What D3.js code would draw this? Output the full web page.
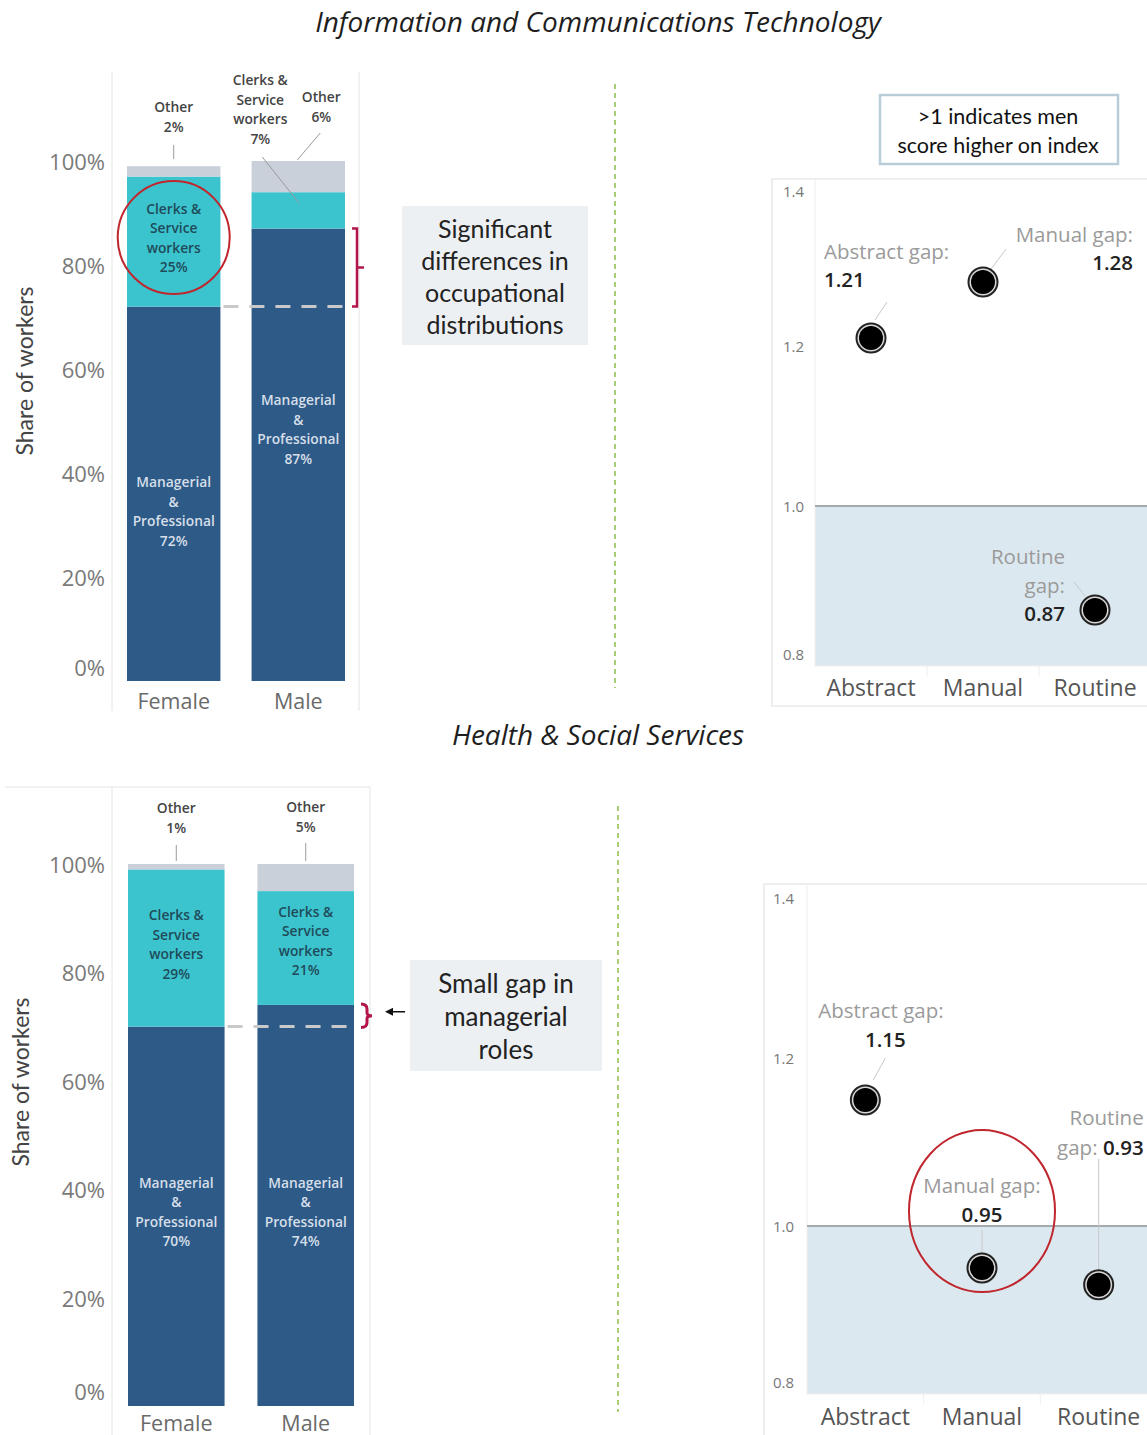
<!DOCTYPE html>
<html>
<head>
<meta charset="utf-8">
<script src="https://cdn.jsdelivr.net/npm/d3@7"></script>
<style>
  body { margin: 0; background: #fff; }
  svg text { font-family: 'Open Sans', 'Noto Sans', sans-serif; }
</style>
</head>
<body>
<svg id="chart" width="1147" height="1435"></svg>
<script>
// ---- data ----
const genders = ["Female", "Male"];
const occupations = ["Managerial & Professional", "Clerks & Service workers", "Other"];
const ictFemale = [72, 25, 2];
const ictMale = [87, 7, 6];
const healthFemale = [70, 29, 1];
const healthMale = [74, 21, 5];
const shareTicks = [0, 20, 40, 60, 80, 100];

const gapCategories = ["Abstract", "Manual", "Routine"];
const ictGaps = [1.21, 1.28, 0.87];
const healthGaps = [1.15, 0.95, 0.93];
const gapTicks = [0.8, 1.0, 1.2, 1.4];

// ---- styling ----
const COL = {
  mgr: "#2d5a87", clerk: "#3cc4ce", other: "#c9d0d9",
  red: "#c0262d", brace: "#b3154a", frame: "#e4e4e4",
  shade: "#dce8ef", green: "#8fbf4a"
};
const CAL = "Lato, 'Open Sans', sans-serif";

const svg = d3.select("#chart");
svg.append("rect").attr("width", 1147).attr("height", 1435).attr("fill", "#fff");

function stack(vals) {
  let c = 0;
  return vals.map((v, i) => { const d = { occ: occupations[i], v, i, y0: c, y1: c + v }; c += v; return d; });
}

function lines(g, arr, x, yCenter, step, anchor, style) {
  const y0 = yCenter - (arr.length - 1) * step / 2;
  const t = g.append("text").attr("text-anchor", anchor || "middle");
  arr.forEach((s, k) => {
    t.append("tspan").attr("x", x).attr("y", y0 + k * step).attr("dominant-baseline", "central").text(s);
  });
  Object.entries(style || {}).forEach(([k, v]) => t.style(k, v));
  return t;
}

function leader(g, x1, y1, x2, y2, color) {
  g.append("line").attr("x1", x1).attr("y1", y1).attr("x2", x2).attr("y2", y2)
    .attr("stroke", color || "#9a9a9a").attr("stroke-width", 1);
}

// ---- stacked share panel ----
function sharePanel(o) {
  const g = svg.append("g");
  const y = d3.scaleLinear().domain([0, 100]).range([o.bottom, o.top]);
  const x = d3.scaleBand().domain(genders).range([o.left, o.right]).paddingInner(o.pad);

  // pane frame
  o.frame.forEach(f => g.append("line").attr("x1", f[0]).attr("y1", f[1]).attr("x2", f[2]).attr("y2", f[3])
    .attr("stroke", COL.frame).attr("stroke-width", 1));

  // axis labels
  g.selectAll(null).data(shareTicks).join("text")
    .attr("x", o.tickX).attr("y", d => y(d) + (d === 0 ? o.zeroShift : 0))
    .attr("text-anchor", "end").attr("dominant-baseline", "central")
    .style("font-size", "22px").style("fill", "#7a7a7a").text(d => d + "%");

  g.append("text").attr("transform", `translate(${o.titleX},${(o.top + o.bottom) / 2 + o.titleDy}) rotate(-90)`)
    .attr("text-anchor", "middle").attr("dominant-baseline", "central")
    .style("font-family", CAL).style("font-size", "23px").style("fill", "#444").text("Share of workers");

  g.selectAll(null).data(genders).join("text")
    .attr("x", d => x(d) + x.bandwidth() / 2).attr("y", o.bottom + o.catDy)
    .attr("text-anchor", "middle").attr("dominant-baseline", "central")
    .style("font-size", "21.5px").style("fill", "#6a6a6a").text(d => d);

  const series = [o.female, o.male];
  const fills = [COL.mgr, COL.clerk, COL.other];
  const segs = {};
  genders.forEach((gn, gi) => {
    segs[gn] = stack(series[gi]);
    g.selectAll(null).data(segs[gn]).join("rect")
      .attr("x", x(gn)).attr("width", x.bandwidth())
      .attr("y", d => y(d.y1)).attr("height", d => y(d.y0) - y(d.y1))
      .attr("fill", d => fills[d.i]);
  });

  // dashed reference at female managerial share
  const fm = o.female[0];
  g.append("line").attr("x1", x("Female") + x.bandwidth() + 3).attr("x2", x("Male") + x.bandwidth())
    .attr("y1", y(fm)).attr("y2", y(fm))
    .attr("stroke", "#c9c9c9").attr("stroke-width", 3).attr("stroke-dasharray", "15,11");

  const inStyle = { "font-size": "13.8px", "font-weight": "600", "fill": "#d6dfe9" };
  const clStyle = { "font-size": "13.8px", "font-weight": "600", "fill": "#1f4b5a" };

  // in-bar labels
  genders.forEach((gn, gi) => {
    const cx = x(gn) + x.bandwidth() / 2;
    const m = segs[gn][0];
    lines(g, ["Managerial", "&", "Professional", m.v + "%"], cx, y((m.y0 + m.y1) / 2) + o.mgrDy[gi], 19.5, "middle", inStyle);
    const c = segs[gn][1];
    if (o.clerkInside[gi]) {
      lines(g, ["Clerks &", "Service", "workers", c.v + "%"], cx, y((c.y0 + c.y1) / 2) + o.clerkDy[gi], 19.5, "middle", clStyle);
    }
  });
  return { g, x, y, segs };
}

// ---- gap dot panel ----
function gapPanel(o) {
  const g = svg.append("g");
  const y = d3.scaleLinear().domain([0.8, 1.4]).range([o.bottom, o.top]);
  const x = d3.scaleBand().domain(gapCategories).range([o.left, o.right]);

  g.append("rect").attr("x", o.box[0]).attr("y", o.box[1]).attr("width", o.box[2]).attr("height", o.box[3])
    .attr("fill", "#fff").attr("stroke", "#dedede").attr("stroke-width", 1);
  g.append("rect").attr("x", o.left).attr("y", y(1.0)).attr("width", o.right - o.left)
    .attr("height", y(0.8) - y(1.0)).attr("fill", COL.shade);
  g.append("line").attr("x1", o.left).attr("x2", o.left).attr("y1", o.box[1] + 1).attr("y2", o.bottom)
    .attr("stroke", "#eeeeee");
  g.append("line").attr("x1", o.left).attr("x2", o.right).attr("y1", o.bottom).attr("y2", o.bottom)
    .attr("stroke", "#eeeeee");
  gapCategories.slice(1).forEach(c => g.append("line").attr("x1", x(c)).attr("x2", x(c))
    .attr("y1", o.bottom).attr("y2", o.bottom + 10).attr("stroke", "#eeeeee"));
  g.append("line").attr("x1", o.left).attr("x2", o.right).attr("y1", y(1.0)).attr("y2", y(1.0))
    .attr("stroke", "#a3a9ad").attr("stroke-width", 2);

  g.selectAll(null).data(gapTicks).join("text")
    .attr("x", o.tickX).attr("y", d => y(d) + (d === 1.4 ? o.topShift : d === 0.8 ? o.botShift : 0))
    .attr("dominant-baseline", "central")
    .style("font-size", "15px").style("fill", "#777").text(d => d.toFixed(1));

  g.selectAll(null).data(gapCategories).join("text")
    .attr("x", d => x(d) + x.bandwidth() / 2).attr("y", o.bottom + o.catDy)
    .attr("text-anchor", "middle").attr("dominant-baseline", "central")
    .style("font-size", "23px").style("fill", "#555").text(d => d);

  const pts = gapCategories.map((c, i) => ({ c, v: o.values[i], cx: x(c) + x.bandwidth() / 2, cy: y(o.values[i]) }));

  // annotations
  pts.forEach((p, i) => {
    const a = o.notes[i];
    leader(g, p.cx + a.lead[0], p.cy + a.lead[1], p.cx + a.lead[2], p.cy + a.lead[3], "#c8c8c8");
    a.parts.forEach(t => {
      const tx = g.append("text").attr("x", p.cx + t.dx).attr("y", p.cy + t.dy)
        .attr("text-anchor", t.anchor).attr("dominant-baseline", "central").style("font-size", "20.5px");
      t.spans.forEach(s => {
        const sp = tx.append("tspan").text(s.txt === null ? p.v.toFixed(2) : s.txt);
        if (s.txt === null) sp.style("fill", "#222").style("font-weight", "600");
        else sp.style("fill", "#9a9a9a");
      });
    });
  });

  const dots = g.selectAll(null).data(pts).join("g").attr("transform", p => `translate(${p.cx},${p.cy})`);
  dots.append("circle").attr("r", 15.5).attr("fill", "#222");
  dots.append("circle").attr("r", 13.5).attr("fill", "#d9d9d9");
  dots.append("circle").attr("r", 12).attr("fill", "#000");
  return { g, x, y, pts };
}

// ---- section titles ----
function title(txt, yy) {
  svg.append("text").attr("x", 598).attr("y", yy).attr("text-anchor", "middle").attr("dominant-baseline", "central")
    .style("font-style", "italic").style("font-size", "28px").style("fill", "#1e1e1e").text(txt);
}
title("Information and Communications Technology", 21);
title("Health & Social Services", 734);

// ---- dividers ----
[[615, 84, 688], [618, 806, 1412]].forEach(d => svg.append("line")
  .attr("x1", d[0]).attr("x2", d[0]).attr("y1", d[1]).attr("y2", d[2])
  .attr("stroke", COL.green).attr("stroke-width", 1.5).attr("stroke-dasharray", "5,4"));

// ================= ICT =================
const ict = sharePanel({
  top: 161, bottom: 681, left: 127, right: 345, pad: 0.25,
  female: ictFemale, male: ictMale, tickX: 105, zeroShift: -14, titleX: 24, titleDy: -50, catDy: 19,
  frame: [[112, 72, 112, 711], [359, 72, 359, 711]],
  mgrDy: [17, -26], clerkDy: [-4, 0], clerkInside: [true, false]
});
{
  const g = ict.g, x = ict.x, y = ict.y;
  const st = { "font-size": "13.8px", "font-weight": "600", "fill": "#444" };
  const fc = x("Female") + x.bandwidth() / 2, mc = x("Male") + x.bandwidth() / 2;
  lines(g, ["Other", "2%"], fc, 116, 20, "middle", st);
  leader(g, fc, 145, fc, y(100) - 2);
  lines(g, ["Clerks &", "Service", "workers", "7%"], mc - 38, 109, 19.5, "middle", st);
  leader(g, mc - 36, 157, mc + 1, y(90.5) - 7);
  lines(g, ["Other", "6%"], mc + 23, 106, 20, "middle", st);
  leader(g, mc + 22, 133, mc - 1, y(100) - 1);
  // highlight ring on female clerks
  const c = ict.segs.Female[1];
  g.append("ellipse").attr("cx", fc).attr("cy", y((c.y0 + c.y1) / 2) - 4).attr("rx", 56).attr("ry", 56.5)
    .attr("fill", "none").attr("stroke", COL.red).attr("stroke-width", 2);
  // bracket spanning the managerial gap
  const yT = y(ictMale[0]), yB = y(ictFemale[0]);
  g.append("path").attr("d", `M352,${yT} H357 V${yB} H352 M357,${(yT + yB) / 2} H364`)
    .attr("fill", "none").attr("stroke", COL.brace).attr("stroke-width", 2.5);
}
// callout
svg.append("rect").attr("x", 402).attr("y", 206).attr("width", 186).attr("height", 139).attr("fill", "#edf0f3");
lines(svg, ["Significant", "differences in", "occupational", "distributions"], 495, 276, 32, "middle",
  { "font-family": CAL, "font-size": "25px", "fill": "#222" });

// ICT gaps
svg.append("rect").attr("x", 880).attr("y", 95).attr("width", 238).attr("height", 69)
  .attr("fill", "#fff").attr("stroke", "#b9cdd9").attr("stroke-width", 2.5);
lines(svg, [">1 indicates men", "score higher on index"], 998, 130, 29, "middle",
  { "font-family": CAL, "font-size": "21.5px", "fill": "#111" });

gapPanel({
  top: 186, bottom: 666, left: 815, right: 1151, values: ictGaps,
  box: [772, 179, 390, 527], tickX: 783, topShift: 5, botShift: -12, catDy: 21,
  notes: [
    { lead: [16, -36, 4, -18], parts: [
      { dx: -47, dy: -87, anchor: "start", spans: [{ txt: "Abstract gap:" }] },
      { dx: -47, dy: -59, anchor: "start", spans: [{ txt: null }] }] },
    { lead: [23, -33, 8, -13], parts: [
      { dx: 150, dy: -48, anchor: "end", spans: [{ txt: "Manual gap:" }] },
      { dx: 150, dy: -20, anchor: "end", spans: [{ txt: null }] }] },
    { lead: [-21, -28, -10, -14], parts: [
      { dx: -67, dy: -54, anchor: "middle", spans: [{ txt: "Routine" }] },
      { dx: -30, dy: -25, anchor: "end", spans: [{ txt: "gap:" }] },
      { dx: -30, dy: 3, anchor: "end", spans: [{ txt: null }] }] }
  ]
});

// ================= Health =================
const hs = sharePanel({
  top: 864, bottom: 1406, left: 128, right: 354, pad: 0.254,
  female: healthFemale, male: healthMale, tickX: 105, zeroShift: -15, titleX: 20, titleDy: -53, catDy: 16,
  frame: [[5, 787, 370, 787], [370, 787, 370, 1435], [112, 787, 112, 1435]],
  mgrDy: [-5, 6], clerkDy: [-4, -7.5], clerkInside: [true, true]
});
{
  const g = hs.g, x = hs.x, y = hs.y;
  const st = { "font-size": "13.8px", "font-weight": "600", "fill": "#444" };
  const fc = x("Female") + x.bandwidth() / 2, mc = x("Male") + x.bandwidth() / 2;
  lines(g, ["Other", "1%"], fc, 817, 20, "middle", st);
  leader(g, fc, 845, fc, y(100) - 3);
  lines(g, ["Other", "5%"], mc, 816, 20, "middle", st);
  leader(g, mc, 843, mc, y(100) - 3);
  // curly brace over the managerial gap
  const yT = y(healthMale[0]) - 1, yB = y(healthFemale[0]) + 1, ym = (yT + yB) / 2, bx = 361;
  g.append("path").attr("d",
    `M${bx},${yT} Q${bx + 6},${yT} ${bx + 6},${yT + 5} V${ym - 3} Q${bx + 6},${ym} ${bx + 11},${ym}` +
    ` Q${bx + 6},${ym} ${bx + 6},${ym + 3} V${yB - 5} Q${bx + 6},${yB} ${bx},${yB}`)
    .attr("fill", "none").attr("stroke", COL.brace).attr("stroke-width", 3);
  // pointer from callout
  g.append("line").attr("x1", 405).attr("x2", 392).attr("y1", ym - 4).attr("y2", ym - 4)
    .attr("stroke", "#111").attr("stroke-width", 1.5);
  g.append("path").attr("d", `M385,${ym - 4} L393,${ym - 8} L393,${ym} Z`).attr("fill", "#111");
}
svg.append("rect").attr("x", 410).attr("y", 960).attr("width", 192).attr("height", 111).attr("fill", "#edf0f3");
lines(svg, ["Small gap in", "managerial", "roles"], 506, 1016, 33, "middle",
  { "font-family": CAL, "font-size": "26px", "fill": "#222" });

const hg = gapPanel({
  top: 890, bottom: 1394, left: 807, right: 1157, values: healthGaps,
  box: [764, 884, 400, 560], tickX: 773, topShift: 8, botShift: -12, catDy: 22,
  notes: [
    { lead: [20, -42, 8, -20], parts: [
      { dx: -47, dy: -90, anchor: "start", spans: [{ txt: "Abstract gap:" }] },
      { dx: 20, dy: -61, anchor: "middle", spans: [{ txt: null }] }] },
    { lead: [0, -38, 0, -14], parts: [
      { dx: 0, dy: -83, anchor: "middle", spans: [{ txt: "Manual gap:" }] },
      { dx: 0, dy: -54, anchor: "middle", spans: [{ txt: null }] }] },
    { lead: [0, -126, 0, -15], parts: [
      { dx: 45, dy: -168, anchor: "end", spans: [{ txt: "Routine" }] },
      { dx: 45, dy: -138, anchor: "end", spans: [{ txt: "gap: " }, { txt: null }] }] }
  ]
});
{
  const p = hg.pts[1];
  hg.g.append("ellipse").attr("cx", p.cx).attr("cy", p.cy - 57).attr("rx", 73).attr("ry", 81)
    .attr("fill", "none").attr("stroke", COL.red).attr("stroke-width", 2);
}
</script>
</body>
</html>
